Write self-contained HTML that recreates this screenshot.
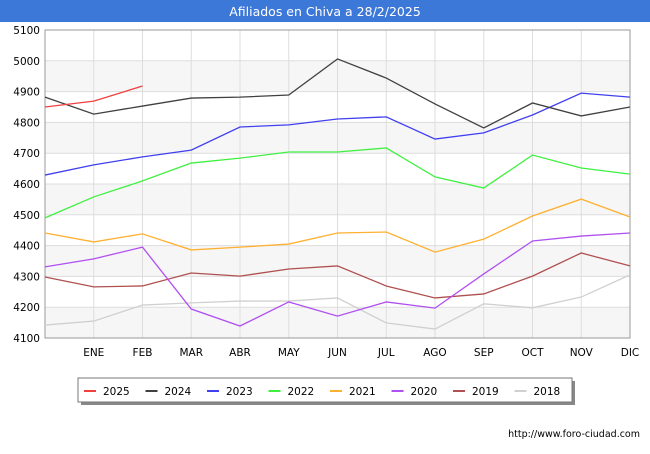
<!DOCTYPE html>
<html><head><meta charset="utf-8"><style>
body{margin:0;background:#fff;font-family:"DejaVu Sans",sans-serif}
</style></head><body>
<svg width="650" height="450" xmlns="http://www.w3.org/2000/svg" font-family="DejaVu Sans, sans-serif">
<rect x="0" y="0" width="650" height="22" fill="#3c78d8"/>
<text x="325" y="16" text-anchor="middle" fill="#fff" font-size="12.5">Afiliados en Chiva a 28/2/2025</text>
<g id="plot"></g>
<g id="legend"></g>
<text x="640" y="437" text-anchor="end" font-size="9.5" fill="#000">http://www.foro-ciudad.com</text>
</svg>
<script>
const months=["","ENE","FEB","MAR","ABR","MAY","JUN","JUL","AGO","SEP","OCT","NOV","DIC"];
const yTicks=[4100,4200,4300,4400,4500,4600,4700,4800,4900,5000,5100];
const seriesNames=["2025","2024","2023","2022","2021","2020","2019","2018"];
const seriesColors=["#f04040","#404040","#4040f0","#40f040","#ffb030","#b050f0","#b05050","#d0d0d0"];
const s2025=[4850,4869,4918];
const s2024=[4882,4827,4853,4879,4882,4889,5006,4944,4860,4782,4863,4821,4850];
const s2023=[4629,4662,4688,4710,4785,4792,4811,4818,4746,4766,4824,4895,4882];
const s2022=[4490,4558,4610,4668,4684,4704,4704,4717,4623,4587,4694,4652,4632];
const s2021=[4441,4412,4438,4386,4395,4405,4441,4444,4379,4421,4496,4551,4493];
const s2020=[4331,4357,4395,4194,4139,4217,4171,4217,4197,4308,4415,4431,4441];
const s2019=[4298,4266,4269,4311,4301,4324,4334,4269,4230,4243,4301,4376,4334];
const s2018=[4142,4155,4207,4214,4220,4220,4230,4149,4129,4211,4198,4233,4305];
const allSeries=[s2025,s2024,s2023,s2022,s2021,s2020,s2019,s2018];
const NS="http://www.w3.org/2000/svg";
const X0=45,X1=630,Y0=30,Y1=338,YMIN=4100,YMAX=5100;
const xs=i=>X0+i*(X1-X0)/12;
const ys=v=>Y1-(v-YMIN)*(Y1-Y0)/(YMAX-YMIN);
function mk(t,a,p){const e=document.createElementNS(NS,t);for(const k in a)e.setAttribute(k,a[k]);p.appendChild(e);return e;}
const plot=document.getElementById('plot');
for(let i=0;i<yTicks.length-1;i++){
 if(i%2===0){const r=mk('rect',{x:X0,y:ys(yTicks[i+1]),width:X1-X0,height:ys(yTicks[i])-ys(yTicks[i+1]),fill:'#f6f6f6'},plot);
 
 }
}
yTicks.forEach(v=>{
 const l=mk('line',{x1:X0,x2:X1,y1:ys(v),y2:ys(v),stroke:'#dddddd'},plot);
 
 
 const t=mk('text',{x:X0-5,y:ys(v)+4,'text-anchor':'end','font-size':10.5},plot);t.textContent=v;
 
 
});
months.forEach((m,i)=>{
 const l=mk('line',{x1:xs(i),x2:xs(i),y1:Y0,y2:Y1,stroke:'#dddddd'},plot);
 
 
 if(m){const t=mk('text',{x:xs(i),y:356,'text-anchor':'middle','font-size':10.5},plot);t.textContent=m;
 
 }
});
const fr=mk('rect',{x:X0,y:Y0,width:X1-X0,height:Y1-Y0,fill:'none',stroke:'#999'},plot);


for(let k=allSeries.length-1;k>=0;k--){
 const d=allSeries[k].map((v,i)=>xs(i)+','+ys(v)).join(' ');
 const p=mk('polyline',{points:d,fill:'none',stroke:seriesColors[k],'stroke-width':1.3},plot);
 
 
}
const lg=document.getElementById('legend');
const sh=mk('rect',{x:81,y:381,width:494,height:24,fill:'#888'},lg);


const box=mk('rect',{x:78,y:378,width:494,height:24,fill:'#fff',stroke:'#777'},lg);


seriesNames.forEach((n,i)=>{
 const x=84+i*61.5;
 const g=mk('g',{},lg);
 
 
 mk('line',{x1:x,x2:x+12,y1:391,y2:391,stroke:seriesColors[i],'stroke-width':2},g);
 const t=mk('text',{x:x+19,y:395,'font-size':10.5},g);t.textContent=n;
});
</script>
</body></html>
